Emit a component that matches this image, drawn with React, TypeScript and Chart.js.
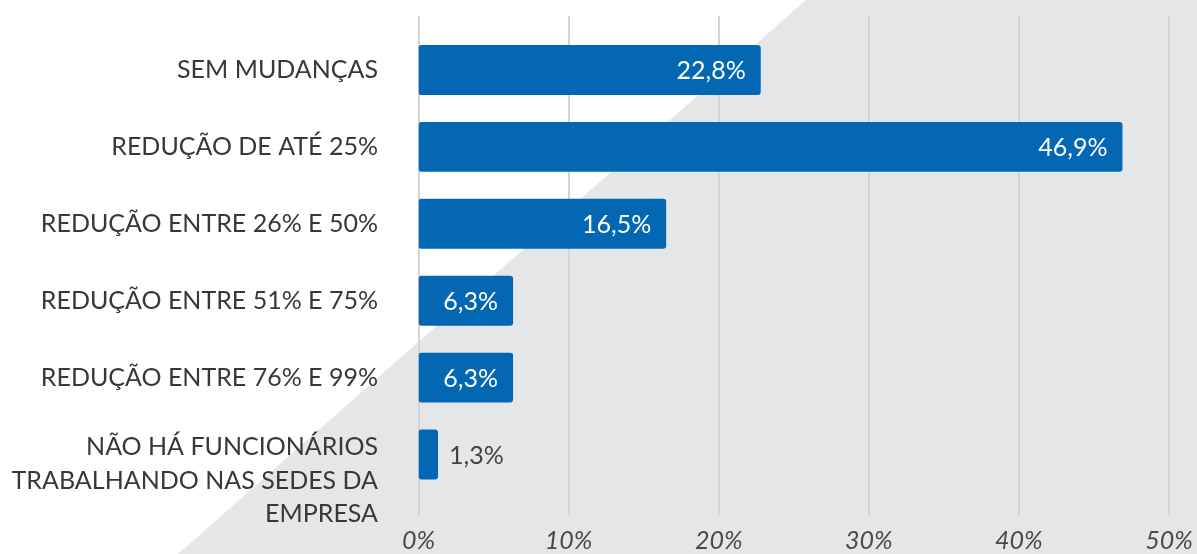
import React, { useEffect, useRef } from "react";
import { Chart, registerables } from "chart.js";

Chart.register(...registerables);

const categories: string[][] = [
  ["SEM MUDANÇAS"],
  ["REDUÇÃO DE ATÉ 25%"],
  ["REDUÇÃO ENTRE 26% E 50%"],
  ["REDUÇÃO ENTRE 51% E 75%"],
  ["REDUÇÃO ENTRE 76% E 99%"],
  ["NÃO HÁ FUNCIONÁRIOS", "TRABALHANDO NAS SEDES DA", "EMPRESA"],
];
const values: number[] = [22.8, 46.9, 16.5, 6.3, 6.3, 1.3];
const valueLabels: string[] = ["22,8%", "46,9%", "16,5%", "6,3%", "6,3%", "1,3%"];
const xTicks: number[] = [0, 10, 20, 30, 40, 50];

const FONT = "Lato, 'Open Sans', sans-serif";
const BLUE = "#0367b4";

const decorPlugin = {
  id: "decor",
  beforeDraw(chart: any) {
    const { ctx, width, height } = chart;
    const x = chart.scales.x;
    ctx.save();
    ctx.fillStyle = "#ffffff";
    ctx.fillRect(0, 0, width, height);
    ctx.fillStyle = "#e5e6e8";
    ctx.beginPath();
    ctx.moveTo(806, 0);
    ctx.lineTo(width, 0);
    ctx.lineTo(width, height);
    ctx.lineTo(178, height);
    ctx.closePath();
    ctx.fill();
    ctx.strokeStyle = "#d3d4d6";
    ctx.lineWidth = 2;
    for (const v of xTicks) {
      const px = Math.round(x.getPixelForValue(v));
      ctx.beginPath();
      ctx.moveTo(px, 16);
      ctx.lineTo(px, 515);
      ctx.stroke();
    }
    ctx.restore();
  },
  afterDatasetsDraw(chart: any) {
    const { ctx } = chart;
    const y = chart.scales.y;
    const meta = chart.getDatasetMeta(0);
    ctx.save();
    ctx.font = `25px ${FONT}`;
    ctx.textBaseline = "middle";
    ctx.fillStyle = "#383838";
    ctx.textAlign = "right";
    categories.forEach((lines, i) => {
      const cy = y.getPixelForValue(i);
      const start = lines.length > 1 ? cy - 7.5 : cy;
      lines.forEach((ln, j) => {
        ctx.fillText(ln, 378, start + j * 33.5);
      });
    });
    meta.data.forEach((bar: any, i: number) => {
      const w = bar.x - bar.base;
      if (w > 60) {
        ctx.fillStyle = "#ffffff";
        ctx.textAlign = "right";
        ctx.fillText(valueLabels[i], bar.x - 15, bar.y + 1);
      } else {
        ctx.fillStyle = "#444444";
        ctx.textAlign = "left";
        ctx.fillText(valueLabels[i], bar.x + 11, bar.y + 1);
      }
    });
    ctx.restore();
  },
};

export default function App() {
  const ref = useRef<HTMLCanvasElement | null>(null);
  useEffect(() => {
    document.body.style.margin = "0";
    if (!ref.current) return;
    const chart = new Chart(ref.current, {
      type: "bar",
      data: {
        labels: categories.map((c) => c.join(" ")),
        datasets: [
          {
            data: values,
            backgroundColor: BLUE,
            borderRadius: 3,
            borderSkipped: false,
            barPercentage: 0.65,
            categoryPercentage: 1,
          },
        ],
      },
      options: {
        indexAxis: "y",
        animation: false,
        responsive: false,
        maintainAspectRatio: false,
        layout: { padding: { top: 31.5, right: 28, left: 0, bottom: 0 } },
        plugins: { legend: { display: false }, tooltip: { enabled: false } },
        scales: {
          x: {
            min: 0,
            max: 50,
            grid: { display: false },
            border: { display: false },
            ticks: {
              stepSize: 10,
              padding: 25,
              color: "#4a4a4a",
              font: { family: FONT, size: 25, style: "italic" },
              callback: (v: any) => `${v}%`,
            },
            afterFit: (s: any) => {
              s.height = 61;
              s.paddingLeft = 0;
              s.paddingRight = 0;
            },
          },
          y: {
            grid: { display: false },
            border: { display: false },
            ticks: { display: false },
            afterFit: (s: any) => {
              s.width = 418.5;
            },
          },
        },
      },
      plugins: [decorPlugin],
    });
    return () => chart.destroy();
  }, []);
  return (
    <div style={{ width: 1197, height: 554 }}>
      <canvas ref={ref} width={1197} height={554} />
    </div>
  );
}
